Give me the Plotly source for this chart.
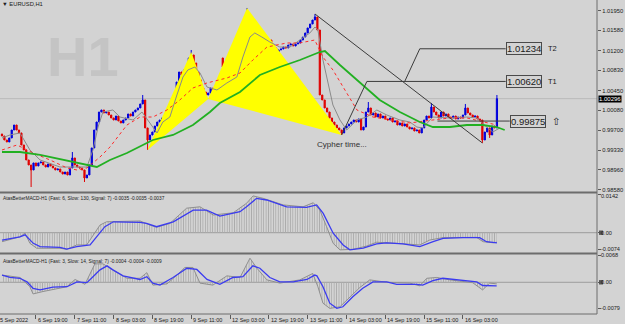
import plotly.graph_objects as go

# ---------------- data (EURUSD H1, bar 0 = 6 Sep 2022 05:00) ----------------
close = [0.99594, 0.99519, 0.99481, 0.99557, 0.99707, 0.99801, 0.99707, 0.99651, 0.99425, 0.99331,
         0.99143, 0.99049, 0.98955, 0.99087, 0.99030, 0.99087, 0.99105, 0.99049, 0.99011, 0.99068,
         0.99030, 0.98993, 0.98955, 0.98974, 0.98917, 0.98879, 0.98917, 0.98861, 0.98993, 0.99181,
         0.99049, 0.99011, 0.98993, 0.98955, 0.98805, 0.98861, 0.99049, 0.99369, 0.99707, 0.99857,
         1.00045, 1.00083, 1.00027, 1.00045, 0.99989, 0.99933, 0.99895, 0.99970, 0.99876, 0.99839,
         0.99895, 0.99933, 1.00008, 0.99970, 1.00045, 1.00083, 1.00121, 1.00196, 1.00271, 0.99745,
         0.99519, 0.99613, 0.99669, 0.99782, 0.99857, 0.99895, 0.99933, 0.99951, 0.99989, 1.00045,
         1.00177, 1.00309, 1.00609, 1.00797, 1.00741, 1.00835, 1.00873, 1.01061, 1.01117, 1.00967,
         1.00797, 1.00647, 1.00497, 1.00421, 1.00365, 1.00403, 1.00497, 1.00459, 1.00534, 1.00497,
         1.00553, 1.00891, 1.00835, 1.00797, 1.00873, 1.00910, 1.00835, 1.00873, 1.00835, 1.00929,
         1.01437, 1.01869, 1.01643, 1.01493, 1.01587, 1.01437, 1.01399, 1.01361, 1.01437, 1.01324,
         1.01399, 1.01305, 1.01249, 1.01173, 1.01211, 1.01230, 1.01267, 1.01249, 1.01305, 1.01324,
         1.01286, 1.01324, 1.01343, 1.01399, 1.01455, 1.01531, 1.01625, 1.01700, 1.01775, 1.01831,
         1.01587, 1.00365, 1.00271, 1.00121, 1.00045, 0.99933, 0.99857, 0.99801, 0.99745, 0.99707,
         0.99651, 0.99745, 0.99782, 0.99820, 0.99857, 0.99895, 0.99857, 0.99914, 0.99707, 0.99763,
         1.00045, 1.00121, 0.99989, 1.00027, 0.99951, 1.00008, 0.99933, 0.99970, 0.99914, 0.99895,
         0.99933, 0.99857, 0.99876, 0.99801, 0.99839, 0.99782, 0.99820, 0.99763, 0.99726, 0.99745,
         0.99688, 0.99707, 0.99651, 0.99745, 0.99895, 0.99970, 0.99933, 1.00139, 1.00045, 0.99989,
         0.99933, 1.00045, 0.99970, 1.00008, 0.99951, 0.99933, 0.99970, 0.99914, 0.99951, 0.99933,
         0.99989, 1.00121, 1.00027, 0.99989, 0.99951, 0.99970, 0.99914, 0.99895, 0.99519, 0.99669,
         0.99745, 0.99613, 0.99782, 0.99745, 1.00296]
gap_open = {0: 0.99632, 91: 1.01061}
wick_high = {29: 0.99293, 58: 1.00365, 78: 1.01211, 101: 1.02001, 129: 1.01888,
             151: 1.00233, 177: 1.00215, 191: 1.00196, 204: 1.00365}
wick_low = {12: 0.98635, 34: 0.98729, 60: 0.99331, 140: 0.99613, 198: 0.99463, 201: 0.99557}

tick_idx = [14, 30, 46, 62, 78, 94, 110, 126, 142, 158, 174, 190]
tick_lbl = ["6 Sep 19:00", "7 Sep 11:00", "8 Sep 03:00", "8 Sep 19:00", "9 Sep 11:00",
            "12 Sep 03:00", "12 Sep 19:00", "13 Sep 11:00", "14 Sep 03:00", "14 Sep 19:00",
            "15 Sep 11:00", "16 Sep 03:00"]
first_lbl = "5 Sep 2022"
price_ticks = [1.01950, 1.01580, 1.01200, 1.00830, 1.00450, 1.00080, 0.99700, 0.99330, 0.98960, 0.98580]

# moving averages
gray_x = [0, 3.3, 7.4, 11.5, 15.7, 23.9, 29.3, 35, 37.5, 39.6, 41.6, 45.7, 48.6, 54, 57.7, 60.2, 63.9,
          66.3, 69.2, 72.1, 74.6, 76.6, 79.5, 81.6, 84.5, 88.6, 92.7, 96.8, 99.3, 102.2, 104.2, 107.1,
          110.4, 114.5, 118.7, 122.8, 126.9, 129, 130.2, 132.3, 134.3, 136.4, 139.3, 142.1, 146.3,
          150.4, 154.5, 158.6, 164, 168.1, 171, 173.4, 177.6, 184.6, 191.6, 195.7, 199.8, 202.3, 205.2]
gray_y = [0.99557, 0.99613, 0.99651, 0.99331, 0.99143, 0.99011, 0.99011, 0.99011, 0.99331, 0.99763,
          1.00045, 1.00083, 0.99951, 0.99895, 1.00045, 0.99895, 0.99651, 0.99857, 0.99951, 1.00365,
          1.00703, 1.00835, 1.00891, 1.00779, 1.00515, 1.00459, 1.00591, 1.00703, 1.01079, 1.01455,
          1.01531, 1.01455, 1.01361, 1.01267, 1.01267, 1.01399, 1.01531, 1.01643, 1.01587, 1.01023,
          1.00591, 1.00177, 0.99895, 0.99707, 0.99895, 0.99951, 1.00083, 0.99989, 0.99895, 0.99857,
          0.99763, 0.99745, 0.99951, 0.99933, 0.99951, 0.99933, 0.99763, 0.99669, 0.99745]
red_x = [0, 6.2, 12.8, 19.8, 26.8, 30.9, 35, 40.4, 44.5, 51.5, 56.9, 62.2, 68, 73.3, 78.7, 84.5, 92.7,
         98.1, 103.4, 109.2, 117.4, 122.8, 128.9, 132.3, 136.4, 140.5, 144.6, 146.3, 152.9, 161.1,
         168.1, 177.6, 184.6, 191.6, 198.1, 203.9]
red_y = [0.99331, 0.99425, 0.99275, 0.99143, 0.98993, 0.98955, 0.98993, 0.99199, 0.99387, 0.99801,
         0.99951, 0.99951, 1.00083, 1.00271, 1.00497, 1.00591, 1.00685, 1.00779, 1.01023, 1.01267,
         1.01343, 1.01343, 1.01399, 1.01079, 1.00835, 1.00515, 1.00215, 1.00083, 0.99951, 0.99895,
         0.99839, 0.99895, 0.99933, 0.99933, 0.99857, 0.99801]
green_x = [0, 7.4, 15.7, 23.9, 29.3, 35, 39.1, 44.5, 51.5, 59.7, 62.2, 70.5, 78.7, 85.7, 89.8, 98.1,
           106.3, 114.5, 122.8, 131, 133.1, 139.3, 147.5, 155.7, 164, 172.2, 177.6, 184.6, 191.6,
           198.1, 203.9, 207.2]
green_y = [0.99293, 0.99293, 0.99237, 0.99161, 0.99105, 0.99049, 0.99011, 0.99143, 0.99275, 0.99463,
           0.99519, 0.99613, 0.99801, 1.00045, 1.00215, 1.00421, 1.00741, 1.00891, 1.01023, 1.01173,
           1.01192, 1.00929, 1.00591, 1.00271, 1.00045, 0.99857, 0.99763, 0.99763, 0.99801, 0.99801,
           0.99763, 0.99707]

# Cypher pattern X, A, B, C, D
cy_x = [60, 78, 85, 101, 140]
cy_p = [0.99331, 1.01173, 1.00290, 1.02001, 0.99613]

# zigzag / target lines
zz1_x = [129, 198]
zz1_p = [1.01888, 0.99463]
t1_x = [140, 150.4, 207.6]
t1_p = [0.99613, 1.00620, 1.00620]
t2_x = [166, 172.2, 207.6]
t2_p = [1.00620, 1.01234, 1.01234]
en_x = [179.5, 209.3]
en_p = [0.99875, 0.99875]
bid = 1.00296

# MACD (6,130,7)
m1_gray_x = [0, 7.4, 9.5, 11.5, 14.3, 23.9, 26.7, 30.8, 34.9, 37.6, 40.4, 43.1, 56.9, 61, 63.7, 69.2,
             76.1, 81.6, 87.1, 95.3, 100.8, 103.5, 107.7, 115.9, 124.1, 128.3, 131, 133.8, 136.5,
             139.3, 144.7, 150.3, 154.4, 162.6, 172.2, 176.3, 181.8, 195.6, 198.3, 202.4, 204]
m1_gray = [-0.0033, -0.0015, -0.0002, -0.0039, -0.0057, -0.0057, -0.0061, -0.0045, -0.0045, -0.0008,
           0.0028, 0.0040, 0.0043, 0.0028, 0.0020, 0.0034, 0.0090, 0.0095, 0.0065, 0.0073, 0.0108,
           0.0135, 0.0126, 0.0102, 0.0095, 0.0110, 0.0083, 0.0022, -0.0039, -0.0063, -0.0061,
           -0.0049, -0.0035, -0.0039, -0.0045, -0.0027, -0.0018, -0.0017, -0.0033, -0.0037, -0.0035]
m1_blue_x = [0, 7.4, 9.5, 12.9, 15.7, 23.9, 26.7, 30.8, 36.3, 39, 42.4, 45.9, 56.9, 59.6, 63.7, 70.6,
             78.8, 84.3, 89.8, 98.1, 100.8, 104.9, 109.1, 117.3, 125.5, 129.7, 132.4, 136.5, 140.6,
             143.4, 148.9, 154.4, 158.5, 165.3, 172.2, 177.7, 181.8, 190.1, 196.9, 199.7, 204]
m1_blue = [-0.0027, -0.0015, -0.0008, -0.0039, -0.0051, -0.0054, -0.0060, -0.0051, -0.0045, -0.0015,
           0.0022, 0.0040, 0.0038, 0.0034, 0.0022, 0.0040, 0.0083, 0.0083, 0.0061, 0.0077, 0.0095,
           0.0126, 0.0120, 0.0095, 0.0093, 0.0102, 0.0071, -0.0002, -0.0045, -0.0063, -0.0057,
           -0.0041, -0.0037, -0.0041, -0.0051, -0.0033, -0.0021, -0.0018, -0.0018, -0.0033, -0.0037]

# MACD (3,14,7)
m2_gray_x = [0, 7.4, 11.5, 12.8, 16.9, 26.8, 30.1, 34.2, 38.3, 41.6, 45.7, 51.5, 56.9, 59.7, 62.2, 68,
             72.1, 75.4, 78.7, 81.6, 86.9, 92.7, 98.1, 102.2, 105.1, 109.2, 114.5, 122.8, 128.1, 130.2,
             132.3, 135.1, 139.3, 143.4, 147.5, 151.6, 158.6, 168.1, 172.2, 175.1, 179.2, 184.6,
             189.9, 194, 198.1, 201, 203.9]
m2_gray = [0.0018, 0.0012, -0.0011, -0.0029, -0.0023, -0.0011, 0.0007, -0.0005, 0.0046, 0.0046,
           0.0031, 0.0010, 0.0010, 0.0024, -0.0007, -0.0004, 0.0018, 0.0037, 0.0037, -0.0002,
           -0.0007, 0.0016, 0.0012, 0.0060, 0.0035, 0.0006, -0.0002, 0.0006, 0.0022, -0.0011,
           -0.0052, -0.0065, -0.0061, -0.0036, -0.0013, 0.0006, 0.0000, -0.0002, -0.0009, 0.0010,
           0.0012, 0.0006, 0.0001, -0.0001, -0.0019, -0.0002, -0.0004]
m2_blue_x = [0, 3.3, 7.4, 10.3, 12.8, 15.7, 21, 26.8, 30.9, 35, 37.5, 40.4, 43.3, 45.7, 49.9, 54, 56.9,
             59.7, 62.2, 65.1, 70.5, 76.2, 80.3, 84.5, 89.8, 95.2, 99.3, 103.4, 106.3, 110.4, 114.5,
             120, 125.7, 128.9, 129.8, 132.3, 135.1, 138, 140.5, 144.6, 148.7, 152.9, 158.6, 162.7,
             171, 173.4, 177.6, 181.7, 185.8, 191.6, 195.7, 198.1, 203.9]
m2_blue = [0.0018, 0.0012, 0.0010, 0.0001, -0.0015, -0.0019, -0.0012, -0.0011, 0.0001, -0.0001,
           0.0014, 0.0031, 0.0041, 0.0031, 0.0016, 0.0010, 0.0007, 0.0014, -0.0002, -0.0007,
           0.0012, 0.0035, 0.0032, 0.0007, -0.0005, 0.0012, 0.0014, 0.0041, 0.0035, 0.0012,
           0.0001, 0.0001, 0.0007, 0.0018, 0.0016, -0.0011, -0.0052, -0.0065, -0.0061, -0.0036,
           -0.0015, 0.0001, 0.0001, -0.0005, -0.0005, -0.0007, 0.0004, 0.0010, 0.0007, 0.0003,
           0.0001, -0.0008, -0.0009]

# ---------------- build ----------------
n = len(close)
idx = list(range(n))
opens = [gap_open[i] if i in gap_open else close[i - 1] for i in idx]
highs = [wick_high.get(i, max(opens[i], close[i])) for i in idx]
lows = [wick_low.get(i, min(opens[i], close[i])) for i in idx]

BG = "#d3d3d3"
AX = "Liberation Sans, Arial, sans-serif"
OBJ = "Liberation Sans, Arial, sans-serif"
XR = [-0.824, 245.25]
XD = 597 / 625

fig = go.Figure()

# yellow cypher triangles (XAB and BCD)
fig.add_trace(go.Scatter(
    x=[cy_x[0], cy_x[1], cy_x[2], cy_x[0]], y=[cy_p[0], cy_p[1], cy_p[2], cy_p[0]],
    fill="toself", fillcolor="#ffff00", line=dict(width=0, color="#ffff00"),
    mode="lines", hoverinfo="skip"))
fig.add_trace(go.Scatter(
    x=[cy_x[2], cy_x[3], cy_x[4], cy_x[2]], y=[cy_p[2], cy_p[3], cy_p[4], cy_p[2]],
    fill="toself", fillcolor="#ffff00", line=dict(width=0, color="#ffff00"),
    mode="lines", hoverinfo="skip"))

# candles
fig.add_trace(go.Candlestick(
    x=idx, open=opens, high=highs, low=lows, close=close,
    increasing=dict(line=dict(color="#0000dc", width=1), fillcolor="#0000dc"),
    decreasing=dict(line=dict(color="#e00000", width=1), fillcolor="#e00000"),
    whiskerwidth=0, hoverinfo="skip"))

# moving averages
fig.add_trace(go.Scatter(x=gray_x, y=gray_y, mode="lines",
                         line=dict(color="#8a8a8a", width=1), hoverinfo="skip"))
fig.add_trace(go.Scatter(x=red_x, y=red_y, mode="lines",
                         line=dict(color="#ff2a2a", width=1, dash="dot"), hoverinfo="skip"))
fig.add_trace(go.Scatter(x=green_x, y=green_y, mode="lines",
                         line=dict(color="#22b022", width=1.8), hoverinfo="skip"))

# zigzag and target lines
for lx, ly in [(zz1_x, zz1_p), (t1_x, t1_p), (t2_x, t2_p), (en_x, en_p)]:
    fig.add_trace(go.Scatter(x=lx, y=ly, mode="lines",
                             line=dict(color="#3c3c3c", width=1), hoverinfo="skip"))

# MACD panels
for gx, gy, bx, by, ya in [(m1_gray_x, m1_gray, m1_blue_x, m1_blue, "y2"),
                           (m2_gray_x, m2_gray, m2_blue_x, m2_blue, "y3")]:
    fig.add_trace(go.Scatter(
        x=gx, y=gy, yaxis=ya, mode="lines", fill="tozeroy", fillcolor="rgba(0,0,0,0)",
        fillpattern=dict(shape="|", fgcolor="#ababab", bgcolor="rgba(0,0,0,0)", size=2.43, solidity=0.35),
        line=dict(color="#8f8f8f", width=1), hoverinfo="skip"))
    fig.add_trace(go.Scatter(x=bx, y=by, yaxis=ya, mode="lines",
                             line=dict(color="#3b3bf0", width=1.3), hoverinfo="skip"))

shapes = [
    dict(type="line", xref="paper", yref="y", x0=0, x1=XD, y0=bid, y1=bid,
         line=dict(color="#b9b9b9", width=1), layer="below"),
    dict(type="line", xref="paper", yref="y2", x0=0, x1=XD, y0=0, y1=0,
         line=dict(color="#9c9c9c", width=1), layer="below"),
    dict(type="line", xref="paper", yref="y3", x0=0, x1=XD, y0=0, y1=0,
         line=dict(color="#9c9c9c", width=1), layer="below"),
    dict(type="line", xref="paper", yref="paper", x0=0, x1=XD, y0=1 - 192.5 / 324, y1=1 - 192.5 / 324,
         line=dict(color="#6c6c6c", width=2)),
    dict(type="line", xref="paper", yref="paper", x0=0, x1=XD, y0=1 - 253.5 / 324, y1=1 - 253.5 / 324,
         line=dict(color="#6c6c6c", width=2)),
    dict(type="line", xref="paper", yref="paper", x0=0, x1=XD, y0=1 - 314 / 324, y1=1 - 314 / 324,
         line=dict(color="#6c6c6c", width=1)),
    dict(type="line", xref="paper", yref="paper", x0=XD, x1=XD, y0=1 - 314 / 324, y1=1,
         line=dict(color="#6c6c6c", width=1)),
    dict(type="rect", xref="paper", yref="y2", x0=599 / 625, x1=603 / 625, y0=-0.0008, y1=0.0008,
         line=dict(width=0), fillcolor="#555555"),
    dict(type="rect", xref="paper", yref="y3", x0=599 / 625, x1=603 / 625, y0=-0.00055, y1=0.00055,
         line=dict(width=0), fillcolor="#555555"),
]

ann = []
ann.append(dict(text="<b>H1</b>", xref="paper", yref="paper", x=45 / 625, y=1 - 56 / 324,
                xanchor="left", yanchor="middle", showarrow=False,
                font=dict(family=OBJ, size=56, color="#c4c4c4")))
ann.append(dict(text="▼ EURUSD,H1", xref="paper", yref="paper", x=0, y=1 - 4.5 / 324,
                xanchor="left", yanchor="middle", showarrow=False,
                font=dict(family=AX, size=5.8, color="#202020")))
ann.append(dict(text="Cypher time...", xref="x", yref="y", x=140.1, y=0.99425,
                xanchor="center", yanchor="middle", showarrow=False,
                font=dict(family=OBJ, size=8, color="#303030")))
for txt, xv, yv in [("1.01234", 207.6, 1.01234), ("1.00620", 207.6, 1.00620), ("0.99875", 209.3, 0.99875)]:
    ann.append(dict(text=txt, xref="x", yref="y", x=xv, y=yv, xanchor="left", yanchor="middle",
                    showarrow=False, bgcolor=BG, bordercolor="#4a4a4a", borderwidth=1, borderpad=0,
                    font=dict(family=OBJ, size=9.5, color="#202020")))
for txt, xv, yv, fam, fs in [("T2", 224.3, 1.01234, OBJ, 7.5), ("T1", 224.3, 1.00620, OBJ, 7.5),
                             ("⇧", 225.8, 0.99875, "DejaVu Sans", 10)]:
    ann.append(dict(text=txt, xref="x", yref="y", x=xv, y=yv, xanchor="left", yanchor="middle",
                    showarrow=False, font=dict(family=fam, size=fs, color="#202020")))
ann.append(dict(text="1.00296", xref="paper", yref="y", x=598 / 625, y=bid, xanchor="left",
                yanchor="middle", showarrow=False, bgcolor="#000000", borderpad=0,
                font=dict(family=AX, size=6, color="#ffffff")))
ann.append(dict(text="AtasBetterMACD-H1 (Fast: 6, Slow: 130, Signal: 7) -0.0035 -0.0035 -0.0037",
                xref="paper", yref="paper", x=1 / 625, y=1 - 198 / 324, xanchor="left", yanchor="middle",
                showarrow=False, font=dict(family=AX, size=4.8, color="#202020")))
ann.append(dict(text="AtasBetterMACD-H1 (Fast: 3, Slow: 14, Signal: 7) -0.0004 -0.0004 -0.0009",
                xref="paper", yref="paper", x=1 / 625, y=1 - 261 / 324, xanchor="left", yanchor="middle",
                showarrow=False, font=dict(family=AX, size=4.8, color="#202020")))
for txt, ya, yv, ys in [("0.0142", "y2", 0.0142, -1.5), ("0.00", "y2", 0.0, 0), ("-0.0074", "y2", -0.0074, 3.5),
                        ("0.0068", "y3", 0.0068, 0), ("0.00", "y3", 0.0, 0), ("-0.0079", "y3", -0.0079, 5.7)]:
    ann.append(dict(text=txt, xref="paper", yref=ya, x=599 / 625, y=yv, yshift=ys, xanchor="left",
                    yanchor="middle", showarrow=False, font=dict(family=AX, size=5.6, color="#202020")))
ann.append(dict(text=first_lbl, xref="paper", yref="paper", x=0, xshift=-2, y=1 - 319.5 / 324,
                xanchor="left", yanchor="middle", showarrow=False,
                font=dict(family=AX, size=5.5, color="#202020")))
for ti, tl in zip(tick_idx, tick_lbl):
    ann.append(dict(text=tl, xref="x", yref="paper", x=ti, y=1 - 319.5 / 324,
                    xanchor="left", yanchor="middle", showarrow=False,
                    font=dict(family=AX, size=5.5, color="#202020")))

fig.update_layout(
    width=625, height=324, margin=dict(l=0, r=0, t=0, b=0), template="none",
    paper_bgcolor=BG, plot_bgcolor=BG, showlegend=False, shapes=shapes, annotations=ann,
    xaxis=dict(domain=[0, XD], range=XR, anchor="y3", showgrid=False, zeroline=False,
               showticklabels=False, ticks="outside", tickvals=tick_idx, ticklen=4,
               tickcolor="#5a5a5a", tickwidth=1, rangeslider=dict(visible=False),
               showline=False, automargin=False, fixedrange=True),
    yaxis=dict(domain=[1 - 192 / 324, 1], range=[0.98541, 1.02151], side="right", anchor="x",
               showgrid=False, zeroline=False, tickvals=price_ticks,
               ticktext=[f"{v:.5f}" for v in price_ticks], ticks="outside", ticklen=3,
               tickcolor="#5a5a5a", tickfont=dict(family=AX, size=5.8, color="#202020"),
               automargin=False, showline=False, fixedrange=True),
    yaxis2=dict(domain=[1 - 253 / 324, 1 - 193 / 324], range=[-0.00745, 0.01457], side="right",
                anchor="x", showgrid=False, zeroline=False, showticklabels=False,
                tickvals=[0.0142, 0.0, -0.0061], ticks="outside", ticklen=3, tickcolor="#5a5a5a",
                automargin=False, fixedrange=True),
    yaxis3=dict(domain=[1 - 314 / 324, 1 - 254 / 324], range=[-0.0079, 0.00705], side="right",
                anchor="x", showgrid=False, zeroline=False, showticklabels=False,
                tickvals=[0.0068, 0.0, -0.0065], ticks="outside", ticklen=3, tickcolor="#5a5a5a",
                automargin=False, fixedrange=True),
)

fig.write_html("out.html")
